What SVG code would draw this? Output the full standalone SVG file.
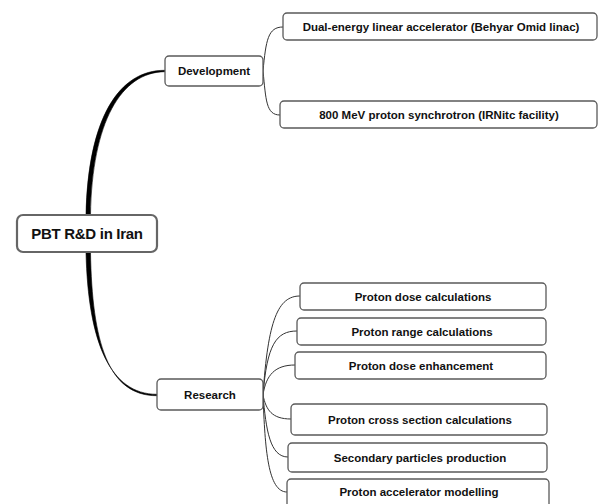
<svg xmlns="http://www.w3.org/2000/svg" width="604" height="504" viewBox="0 0 604 504">
<style>
.box{fill:#fff;stroke:#5a5a5a;stroke-width:1.3}
.root{fill:#fff;stroke:#666;stroke-width:2.2}
.t{font-family:"Liberation Sans",Arial,sans-serif;font-weight:bold;font-size:11.5px;fill:#111;text-anchor:middle}
.rt{font-family:"Liberation Sans",Arial,sans-serif;font-weight:bold;font-size:15px;fill:#111;text-anchor:middle;letter-spacing:-0.3px}
.c{fill:none;stroke:#333;stroke-width:1}
.thick{fill:#000;stroke:#000;stroke-width:0.6}
</style>
<rect width="604" height="504" fill="#fff"/>
<g id="connectors">
<path class="thick" d="M86,215 C88,118 119,70 165,70.3 L165,71.7 C121,72 92,122 90.5,215 Z"/>
<path class="thick" d="M86,252 C88,342 110,394.3 157,394.3 L157,395.7 C108,396 92,342 90.5,252 Z"/>
<path class="c" d="M263,71 C266,40 268,27 283,27"/>
<path class="c" d="M263,71 C266,100 266,115 280,115"/>
<path class="c" d="M263,395 C268,320 278,296 300,296"/>
<path class="c" d="M263,395 C267,345 276,331 297,331"/>
<path class="c" d="M263,395 C266,375 275,365 295,365"/>
<path class="c" d="M263,395 C266,410 272,419 291,419"/>
<path class="c" d="M263,395 C266,430 270,457 288,457"/>
<path class="c" d="M263,395 C265,450 268,492 287,492"/>
</g>
<g id="root"><rect class="root" x="17" y="215" width="140" height="37" rx="6"/><text class="rt" x="87" y="239">PBT R&amp;D in Iran</text></g>
<g id="development"><rect class="box" x="165" y="56" width="98" height="30" rx="4"/><text class="t" x="214" y="75">Development</text></g>
<g id="dual"><rect class="box" x="283" y="13" width="314" height="27" rx="4"/><text class="t" x="441" y="30.5">Dual-energy linear accelerator (Behyar Omid linac)</text></g>
<g id="synchrotron"><rect class="box" x="280" y="101" width="317" height="27" rx="4"/><text class="t" x="439" y="118.5">800 MeV proton synchrotron (IRNitc facility)</text></g>
<g id="research"><rect class="box" x="157" y="379" width="106" height="31" rx="4"/><text class="t" x="210" y="398.5">Research</text></g>
<g id="dose"><rect class="box" x="300" y="283" width="246" height="27" rx="4"/><text class="t" x="423" y="300.5">Proton dose calculations</text></g>
<g id="range"><rect class="box" x="297" y="318" width="249" height="27" rx="4"/><text class="t" x="422" y="335.5">Proton range calculations</text></g>
<g id="enhancement"><rect class="box" x="295" y="352" width="251" height="27" rx="4"/><text class="t" x="421" y="369.5">Proton dose enhancement</text></g>
<g id="crosssection"><rect class="box" x="291" y="404" width="256" height="31" rx="4"/><text class="t" x="420" y="423.5">Proton cross section calculations</text></g>
<g id="secondary"><rect class="box" x="288" y="443" width="259" height="29" rx="4"/><text class="t" x="420" y="461.5">Secondary particles production</text></g>
<g id="accelerator"><rect class="box" x="287" y="479" width="262" height="30" rx="4"/><text class="t" x="419" y="496">Proton accelerator modelling</text></g>
</svg>
